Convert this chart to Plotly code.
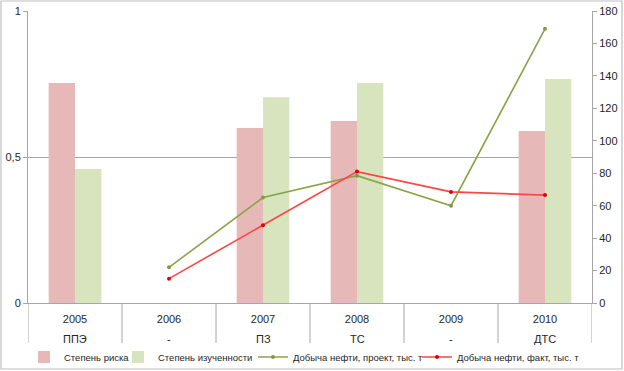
import plotly.graph_objects as go

years = ["2005", "2006", "2007", "2008", "2009", "2010"]
stages = ["ППЭ", "-", "ПЗ", "ТС", "-", "ДТС"]
risk = [0.753, None, 0.599, 0.623, None, 0.589]
study = [0.459, None, 0.705, 0.753, None, 0.767]
oil_plan = [None, 22, 65, 78.5, 60, 169]
oil_fact = [None, 15, 48, 81, 68.5, 66.5]

xs = list(range(len(years)))
font = "Liberation Sans, Arial, sans-serif"

fig = go.Figure()
fig.add_trace(go.Bar(x=xs, y=risk, name="Степень риска", marker_color="#E6B9B8",
                     marker_line_width=0, legend="legend"))
fig.add_trace(go.Bar(x=xs, y=study, name="Степень изученности", marker_color="#D7E4BD",
                     marker_line_width=0, legend="legend2"))
fig.add_trace(go.Scatter(x=xs, y=oil_plan, name="Добыча нефти, проект, тыс. т", yaxis="y2",
                         mode="lines+markers", line=dict(color="#8AA34A", width=1.6),
                         marker=dict(color="#7F9A44", size=4), connectgaps=False,
                         legend="legend3"))
fig.add_trace(go.Scatter(x=xs, y=oil_fact, name="Добыча нефти, факт, тыс. т", yaxis="y2",
                         mode="lines+markers", line=dict(color="#FF4545", width=1.6),
                         marker=dict(color="#E00000", size=4), connectgaps=False,
                         legend="legend4"))

W, H = 624, 371
L, R, T, B = 28, 32, 11, 68
pw, ph = W - L - R, H - T - B

def px_x(px):
    return (px - L) / pw

def px_y(py):
    return (H - B - py) / ph

shapes = []
for k in range(len(years) + 1):
    shapes.append(dict(type="line", xref="x", yref="paper", x0=k - 0.5, x1=k - 0.5,
                       y0=px_y(343), y1=0, line=dict(color="#A6A6A6", width=1)))
shapes.append(dict(type="rect", xref="paper", yref="paper",
                   x0=px_x(1), x1=px_x(622), y0=px_y(369), y1=px_y(1),
                   line=dict(color="#BFBFBF", width=1.2), layer="below"))

annotations = []
for i, s in enumerate(stages):
    annotations.append(dict(x=xs[i], y=px_y(339), xref="x", yref="paper", text=s,
                            showarrow=False, font=dict(size=11, color="#262626", family=font),
                            yanchor="middle"))

def leg(text_x):
    return dict(orientation="h", xref="container", yref="container",
                x=(text_x - 40) / W, xanchor="left", y=(H - 357) / H, yanchor="middle",
                font=dict(size=9.5, family=font, color="#262626"), itemwidth=30,
                bgcolor="rgba(0,0,0,0)", borderwidth=0)

fig.update_layout(
    width=W, height=H,
    margin=dict(l=L, r=R, t=T, b=B, autoexpand=False),
    paper_bgcolor="white", plot_bgcolor="white",
    separators=", ",
    barmode="group", bargap=0.44, bargroupgap=0,
    font=dict(family=font, size=11, color="#262626"),
    showlegend=True,
    legend=leg(64), legend2=leg(158), legend3=leg(293), legend4=leg(457),
    xaxis=dict(range=[-0.5, 5.5], tickvals=xs, ticktext=years, showgrid=False,
               zeroline=False, showline=True, linecolor="#A6A6A6", linewidth=1,
               ticks="", ticklabelstandoff=6, tickfont=dict(size=11), automargin=False),
    yaxis=dict(range=[0, 1], tickvals=[0, 0.5, 1], ticktext=["0", "0,5", "1"],
               showgrid=True, gridcolor="#A6A6A6", gridwidth=1, zeroline=False,
               showline=True, linecolor="#A6A6A6", ticks="outside", ticklen=4,
               tickcolor="#A6A6A6", tickfont=dict(size=11), automargin=False),
    yaxis2=dict(range=[0, 180], dtick=20, overlaying="y", side="right", showgrid=False,
                zeroline=False, showline=True, linecolor="#A6A6A6", ticks="outside",
                ticklen=4, tickcolor="#A6A6A6", tickfont=dict(size=11), automargin=False),
    shapes=shapes, annotations=annotations,
)

fig.write_html("out.html", config={"displayModeBar": False},
               post_script="document.body.style.margin='0';")
